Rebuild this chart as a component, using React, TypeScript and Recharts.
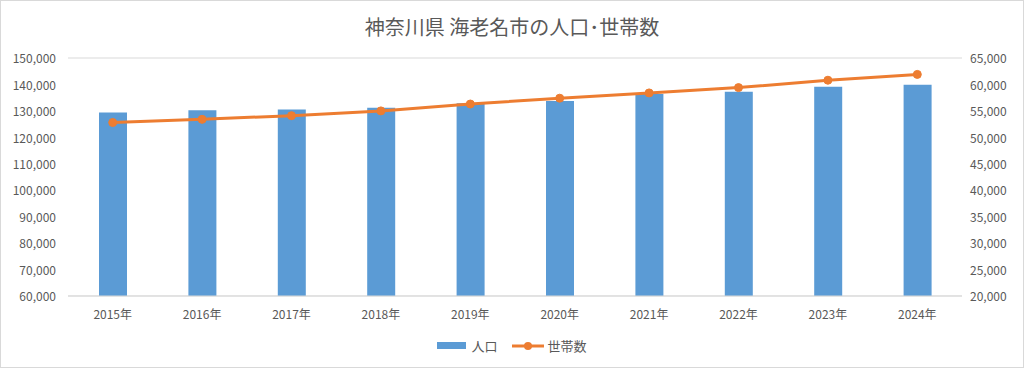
import React from 'react';
import { ComposedChart, Bar, Line, XAxis, YAxis, CartesianGrid, Legend } from 'recharts';

const years = ['2015年', '2016年', '2017年', '2018年', '2019年', '2020年', '2021年', '2022年', '2023年', '2024年'];
const population = [129400, 130200, 130500, 131200, 132900, 133700, 136400, 137200, 139100, 139900];
const households = [52800, 53400, 54100, 55000, 56300, 57400, 58400, 59400, 60800, 61900];

const leftTicks = [60000, 70000, 80000, 90000, 100000, 110000, 120000, 130000, 140000, 150000];
const rightTicks = [20000, 25000, 30000, 35000, 40000, 45000, 50000, 55000, 60000, 65000];

const data = years.map((name, i) => ({ name, pop: population[i], hh: households[i] }));

const FONT = '"Noto Sans CJK JP", "Noto Sans", sans-serif';
const TEXT = '#595959';
const BLUE = '#5b9bd5';
const ORANGE = '#ed7d31';

const fmt = (v: number) => v.toLocaleString('en-US');

const LegendContent = () => (
  <div style={{ display: 'flex', justifyContent: 'center', alignItems: 'center', fontSize: 13, color: TEXT, fontFamily: FONT }}>
    <span style={{ display: 'inline-block', width: 29, height: 7, background: BLUE, marginRight: 5 }} />
    <span style={{ marginRight: 14 }}>人口</span>
    <svg width={32} height={10} style={{ marginRight: 4 }}>
      <line x1={0} y1={5} x2={32} y2={5} stroke={ORANGE} strokeWidth={3} />
      <circle cx={16} cy={5} r={4} fill={ORANGE} />
    </svg>
    <span>世帯数</span>
  </div>
);

export default function App() {
  return (
    <div
      style={{
        position: 'absolute',
        left: 0,
        top: 0,
        width: 1024,
        height: 368,
        boxSizing: 'border-box',
        border: '1px solid #d9d9d9',
        background: '#fff',
        fontFamily: FONT,
      }}
    >
      <div
        style={{
          position: 'absolute',
          top: 12,
          left: 0,
          width: '100%',
          textAlign: 'center',
          fontSize: 20,
          color: TEXT,
          lineHeight: '28px',
        }}
      >
        神奈川県 海老名市の人口･世帯数
      </div>
      <div style={{ position: 'absolute', left: -1, top: -1 }}>
        <ComposedChart width={1024} height={368} data={data} margin={{ top: 58, right: 0, bottom: 6, left: 0 }}>
          <CartesianGrid vertical={false} stroke="#d9d9d9" />
          <XAxis
            dataKey="name"
            height={40}
            tickLine={false}
            axisLine={{ stroke: '#d9d9d9' }}
            tickSize={0}
            tickMargin={14}
            tick={{ fontSize: 12, fill: TEXT, fontFamily: FONT }}
          />
          <YAxis
            yAxisId="left"
            width={68}
            domain={[60000, 150000]}
            ticks={leftTicks}
            tickFormatter={fmt}
            tickLine={false}
            axisLine={false}
            tickSize={0}
            tickMargin={12}
            tick={{ fontSize: 12, fill: TEXT, fontFamily: FONT, dy: 1 }}
          />
          <YAxis
            yAxisId="right"
            orientation="right"
            width={62}
            domain={[20000, 65000]}
            ticks={rightTicks}
            tickFormatter={fmt}
            tickLine={false}
            axisLine={false}
            tickSize={0}
            tickMargin={8}
            tick={{ fontSize: 12, fill: TEXT, fontFamily: FONT, dy: 1 }}
          />
          <Legend verticalAlign="bottom" height={26} content={<LegendContent />} />
          <Bar yAxisId="left" dataKey="pop" name="人口" fill={BLUE} barSize={28} isAnimationActive={false} />
          <Line
            yAxisId="right"
            dataKey="hh"
            name="世帯数"
            stroke={ORANGE}
            strokeWidth={3}
            dot={{ r: 4, fill: ORANGE, stroke: ORANGE, strokeWidth: 1 }}
            activeDot={false}
            isAnimationActive={false}
          />
        </ComposedChart>
      </div>
    </div>
  );
}
